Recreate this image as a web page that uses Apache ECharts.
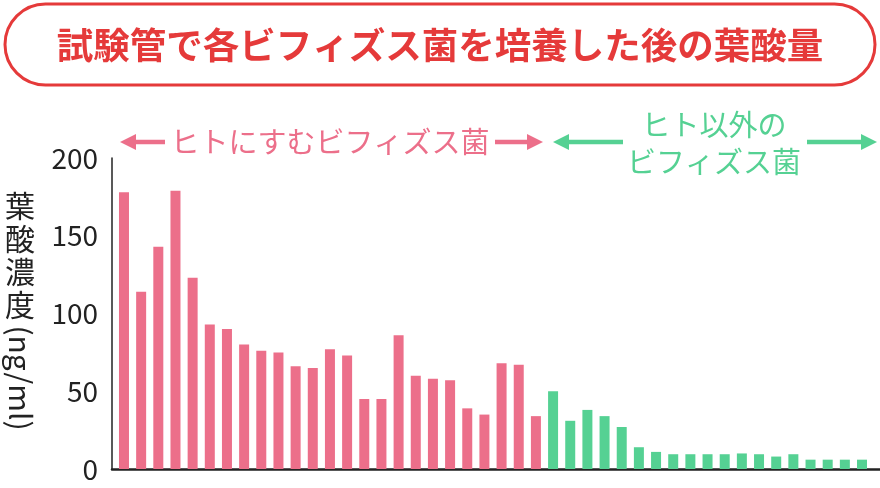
<!DOCTYPE html>
<html><head><meta charset="utf-8">
<script src="https://cdn.jsdelivr.net/npm/echarts@6/dist/echarts.min.js"></script>
<style>html,body{margin:0;padding:0;background:#fff}#c{width:880px;height:488px}</style>
</head><body><div id="c"></div>
<script>
const titleText = '試験管で各ビフィズス菌を培養した後の葉酸量';
const humanLabel = 'ヒトにすむビフィズス菌';
const otherLabel = 'ヒト以外の\nビフィズス菌';
const yTickLabels = ['0', '50', '100', '150', '200'];
const humanValues = [178, 114, 143, 179, 123, 93, 90, 80, 76, 75, 66, 65, 77, 73, 45, 45, 86, 60, 58, 57, 39, 35, 68, 67, 34];
const otherValues = [50, 31, 38, 34, 27, 14, 11, 9.5, 9.5, 9.5, 9.5, 10, 9.5, 8, 9.5, 6, 6, 6, 6];
const PINK = '#ec6f8a', GREEN = '#55d193', RED = '#e53a3a', INK = '#222';
const FONT = '"Noto Sans CJK JP","Noto Sans",sans-serif';

const categories = humanValues.concat(otherValues).map((v, i) => 'B' + (i + 1));
const barData = humanValues.map(v => ({value: v, itemStyle: {color: PINK}}))
  .concat(otherValues.map(v => ({value: v, itemStyle: {color: GREEN}})));

function arrow(x1, x2, y, color, dir) {
  const head = 16, half = 8;
  const els = [];
  if (dir < 0) {
    els.push({type: 'line', shape: {x1: x1 + head - 1, y1: y, x2: x2, y2: y}, style: {stroke: color, lineWidth: 4.5}});
    els.push({type: 'polygon', shape: {points: [[x1, y], [x1 + head, y - half], [x1 + head, y + half]]}, style: {fill: color}});
  } else {
    els.push({type: 'line', shape: {x1: x1, y1: y, x2: x2 - head + 1, y2: y}, style: {stroke: color, lineWidth: 4.5}});
    els.push({type: 'polygon', shape: {points: [[x2, y], [x2 - head, y - half], [x2 - head, y + half]]}, style: {fill: color}});
  }
  return els;
}

const chart = echarts.init(document.getElementById('c'), null, {renderer: 'canvas'});
chart.setOption({
  animation: false,
  textStyle: {fontFamily: FONT},
  grid: [
    {left: 115.4, right: 9.4, top: 158, bottom: 19},
    {left: 112, right: 0, top: 158, bottom: 19}
  ],
  xAxis: [
    {gridIndex: 0, type: 'category', data: categories, show: false},
    {gridIndex: 1, type: 'value', min: 0, max: 1, axisLine: {show: true, lineStyle: {color: INK, width: 2.5}},
     axisTick: {show: false}, axisLabel: {show: false}, splitLine: {show: false}}
  ],
  yAxis: [
    {gridIndex: 0, type: 'value', min: 0, max: 200, show: false},
    {gridIndex: 1, type: 'value', min: 0, max: 200, interval: 50,
     axisLine: {show: true, lineStyle: {color: INK, width: 1.5}},
     axisTick: {show: false}, splitLine: {show: false},
     axisLabel: {color: INK, fontSize: 28, margin: 14, fontFamily: FONT,
       formatter: v => yTickLabels[Math.round(v / 50)]}}
  ],
  series: [{
    type: 'bar', xAxisIndex: 0, yAxisIndex: 0, data: barData, barWidth: 10
  }],
  graphic: [
    {type: 'rect', shape: {x: 5, y: 4, width: 870, height: 81, r: 40.5}, style: {fill: '#fff', stroke: RED, lineWidth: 3}, z: 0},
    {type: 'text', x: 440, y: 45, style: {text: titleText, fill: RED, fontSize: 36.5, fontWeight: 'bold', fontFamily: FONT, align: 'center', verticalAlign: 'middle'}},
    {type: 'text', x: 330, y: 142, style: {text: humanLabel, fill: PINK, fontSize: 29, fontFamily: FONT, align: 'center', verticalAlign: 'middle'}},
    ...arrow(120, 165, 142, PINK, -1),
    ...arrow(495, 543, 142, PINK, 1),
    {type: 'text', x: 714, y: 143, style: {text: otherLabel, fill: GREEN, fontSize: 29, lineHeight: 37, fontFamily: FONT, align: 'center', verticalAlign: 'middle'}},
    ...arrow(553, 623, 142, GREEN, -1),
    ...arrow(807, 877, 142, GREEN, 1),
    {type: 'text', x: 20, y: 189, style: {text: '葉\n酸\n濃\n度', fill: INK, fontSize: 30, lineHeight: 33, fontFamily: FONT, align: 'center', verticalAlign: 'top'}},
    {type: 'text', x: 20, y: 378, rotation: -Math.PI / 2, style: {text: '(ng/ml)', fill: INK, fontSize: 30, fontFamily: FONT, align: 'center', verticalAlign: 'middle'}}
  ]
});
</script>
</body></html>
